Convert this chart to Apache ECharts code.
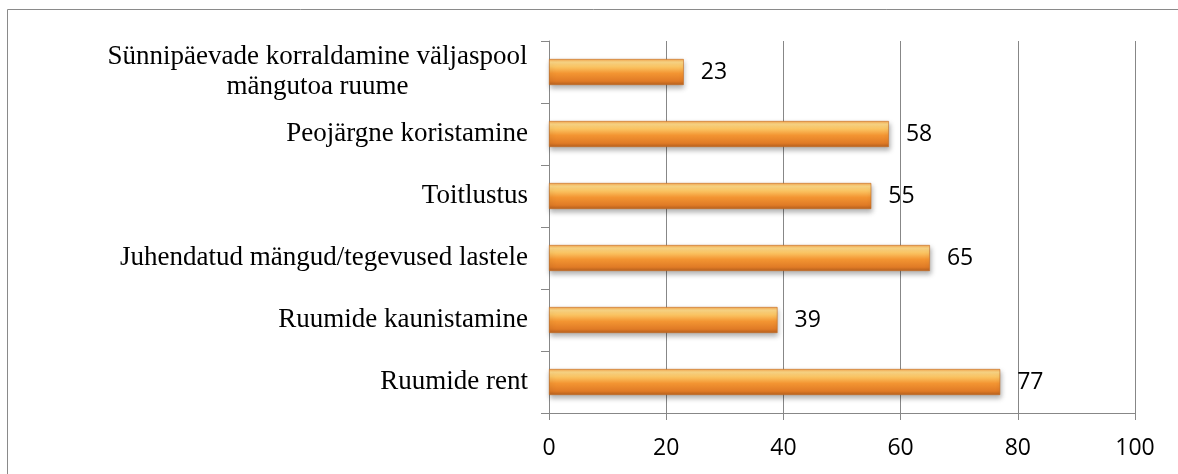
<!DOCTYPE html>
<html>
<head>
<meta charset="utf-8">
<script src="https://cdn.jsdelivr.net/npm/echarts@6/dist/echarts.min.js"></script>
<style>
html,body{margin:0;padding:0;background:#fff;}
#c{width:1178px;height:474px;}
</style>
</head>
<body>
<div id="c"></div>
<script>
// Data (bottom to top as drawn by category axis)
const categories = [
  'Ruumide rent',
  'Ruumide kaunistamine',
  'Juhendatud mängud/tegevused lastele',
  'Toitlustus',
  'Peojärgne koristamine',
  'Sünnipäevade korraldamine väljaspool\nmängutoa ruume'
];
const values = [77, 39, 65, 55, 58, 23];
const xTicks = [0, 20, 40, 60, 80, 100];

const chart = echarts.init(document.getElementById('c'), null, {renderer: 'canvas'});
const gray = '#878787';
const barGrad = new echarts.graphic.LinearGradient(0, 0, 0, 1, [
  {offset: 0, color: '#f3a24a'},
  {offset: 0.12, color: '#fcd786'},
  {offset: 0.3, color: '#fbc563'},
  {offset: 0.55, color: '#f39532'},
  {offset: 0.85, color: '#e07b26'},
  {offset: 1, color: '#b6601f'}
]);
chart.setOption({
  animation: false,
  backgroundColor: '#fff',
  graphic: [{
    type: 'rect', silent: true,
    shape: {x: 7.5, y: 9.5, width: 1200, height: 500},
    style: {fill: 'none', stroke: '#8a8a8a', lineWidth: 1}
  }],
  grid: {left: 549, right: 43, top: 41, bottom: 61, containLabel: false},
  xAxis: {
    type: 'value', min: 0, max: 100, interval: 20,
    axisLine: {show: true, lineStyle: {color: gray, width: 1}},
    axisTick: {show: true, length: 7, lineStyle: {color: gray}},
    splitLine: {show: true, lineStyle: {color: gray, width: 1}},
    axisLabel: {
      margin: 24, color: '#000', fontFamily: 'Open Sans', fontSize: 23,
      formatter: v => xTicks.includes(v) ? String(v) : ''
    }
  },
  yAxis: {
    type: 'category', data: categories,
    axisLine: {show: true, lineStyle: {color: gray, width: 1}},
    axisTick: {show: true, length: 8, alignWithLabel: false, lineStyle: {color: gray}},
    axisLabel: {
      margin: 21, color: '#000', fontFamily: 'Liberation Serif', fontSize: 27, lineHeight: 30,
      formatter: function (v) {
        const lines = v.split('\n');
        if (lines.length > 1) return lines.map(l => '{c|' + l + '}').join('\n');
        return v;
      },
      rich: {c: {width: 421, align: 'center', fontFamily: 'Liberation Serif', fontSize: 27, lineHeight: 30, color: '#000'}}
    }
  },
  series: [{
    type: 'bar', data: values, barWidth: 26,
    itemStyle: {
      color: barGrad, borderColor: '#c56c22', borderWidth: 0.6,
      shadowBlur: 5, shadowOffsetY: 3, shadowOffsetX: 1, shadowColor: 'rgba(0,0,0,0.3)'
    },
    label: {
      show: true, position: 'right', distance: 17, color: '#000',
      fontFamily: 'Open Sans', fontSize: 23
    }
  }]
});
</script>
</body>
</html>
